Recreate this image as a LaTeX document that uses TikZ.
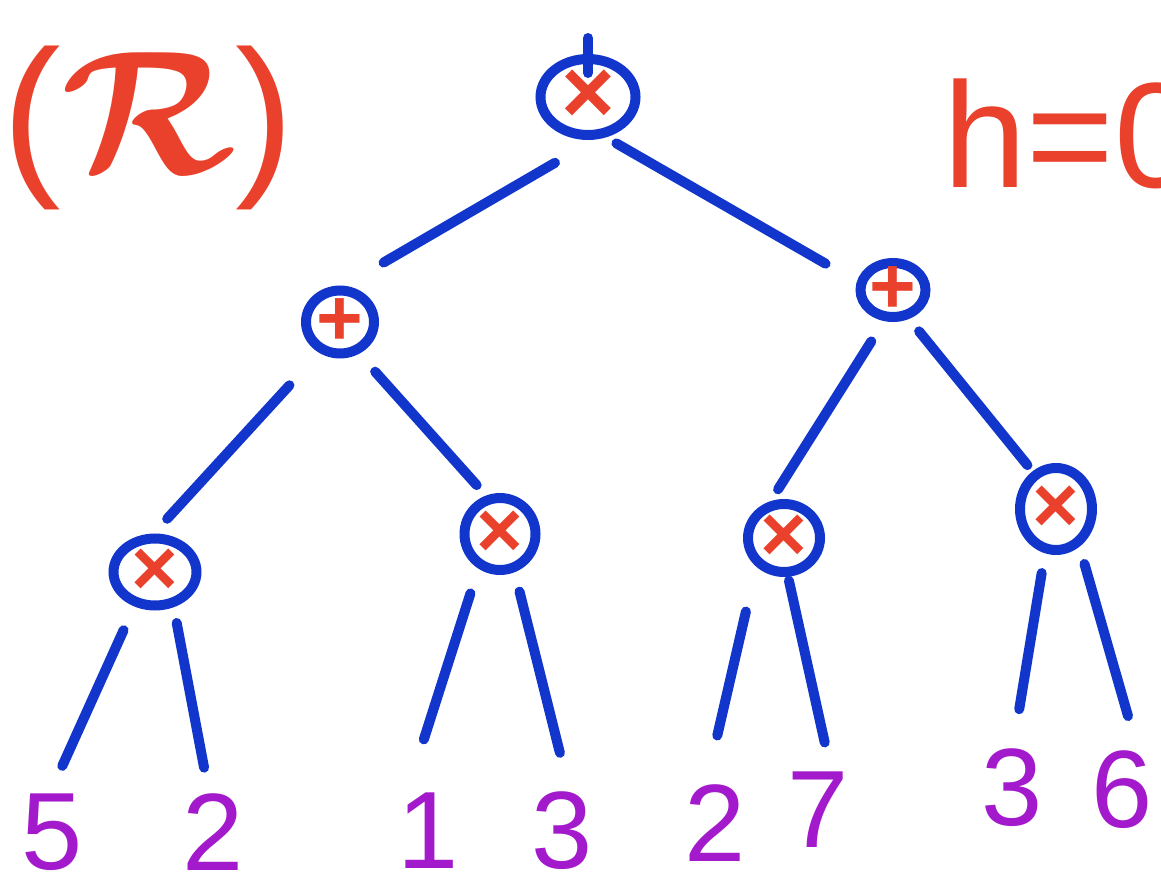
\RequirePackage{fix-cm}
\documentclass[tikz,border=0pt]{standalone}
\usepackage{fontspec}
\setmainfont{Liberation Sans}
\usetikzlibrary{shapes.geometric}
\definecolor{penRed}{HTML}{EA412D}
\definecolor{penBlue}{HTML}{1236CC}
\definecolor{penPurple}{HTML}{A319CC}

\tikzset{
  op/.style={ellipse, draw=penBlue, line width=5pt, inner sep=-6pt, text=penRed,
    font=\bfseries\fontsize{40}{40}\selectfont},
  leaf/.style={text=penPurple, inner sep=0pt, font=\fontsize{55}{55}\selectfont},
  branch/.style={penBlue, line width=5pt, line cap=round},
}

\begin{document}
\begin{tikzpicture}[x=0.5pt, y=-0.5pt]
    \useasboundingbox (0,0) rectangle (1161,893);
    % side labels
    \node[penRed, anchor=west, inner sep=0pt, font=\boldmath\fontsize{88}{88}\selectfont] (name) at (2,128) {{(}$\mathcal{R}${)}};
    \node[penRed, anchor=base west, font=\fontsize{75}{75}\selectfont] (height) at (936,188) {h=0};
    % operators
    \node[op, minimum width=47.5pt, minimum height=38pt, font=\bfseries\fontsize{46}{46}\selectfont] (root) at (588,97) {×};
    \node[op, minimum width=34pt, minimum height=31.5pt] (lp) at (340,322) {+};
    \node[op, minimum width=32.5pt, minimum height=27pt] (rp) at (893,290) {+};
    \node[op, minimum width=41.5pt, minimum height=33.5pt] (ll) at (155,572) {×};
    \node[op, minimum width=35.5pt, minimum height=36pt] (lr) at (500,534) {×};
    \node[op, minimum width=36pt, minimum height=34pt] (rl) at (784,538) {×};
    \node[op, minimum width=36pt, minimum height=41pt] (rr) at (1056,509) {×};
    % leaves
    \node[leaf] (v5) at (52,832) {5};
    \node[leaf] (v2) at (213,832) {2};
    \node[leaf] (v1) at (428,831) {1};
    \node[leaf] (v3) at (562,831) {3};
    \node[leaf] (v2b) at (715,823) {2};
    \node[leaf] (v7) at (818,810) {7};
    \node[leaf] (v3b) at (1012,788) {3};
    \node[leaf] (v6) at (1122,790) {6};
    % branches
    \coordinate (stub) at (588,38);
    \draw[branch, shorten >=12pt] (stub) -- (root.center);
    \foreach \from/\a/\to/\b/\s/\e in {root/-81/lp/84/23pt/23pt, root/-66/rp/167/6pt/18pt,
        lp/-124/ll/92/22pt/10pt, lp/-59/lr/110/12pt/7pt,
        rp/-106/rl/110/12pt/7pt, rp/-61/rr/122/8pt/4pt}
        \draw[branch, shorten <=\s, shorten >=\e] (\from.\a) -- (\to.\b);
    \foreach \from/\a/\to/\b/\s/\e in {ll/-121/v5/93/13pt/15pt, ll/-62/v2/96/8pt/13pt,
        lr/-122/v1/119/13pt/28pt, lr/-69/v3/79/10pt/20pt,
        rl/-134/v2b/103/23pt/25pt, rl/-84/v7/71/2pt/15pt,
        rr/-104/v3b/89/10pt/20pt, rr/-58/v6/68/9pt/18pt}
        \draw[branch, shorten <=\s, shorten >=\e] (\from.\a) -- (\to.\b);
\end{tikzpicture}
\end{document}
